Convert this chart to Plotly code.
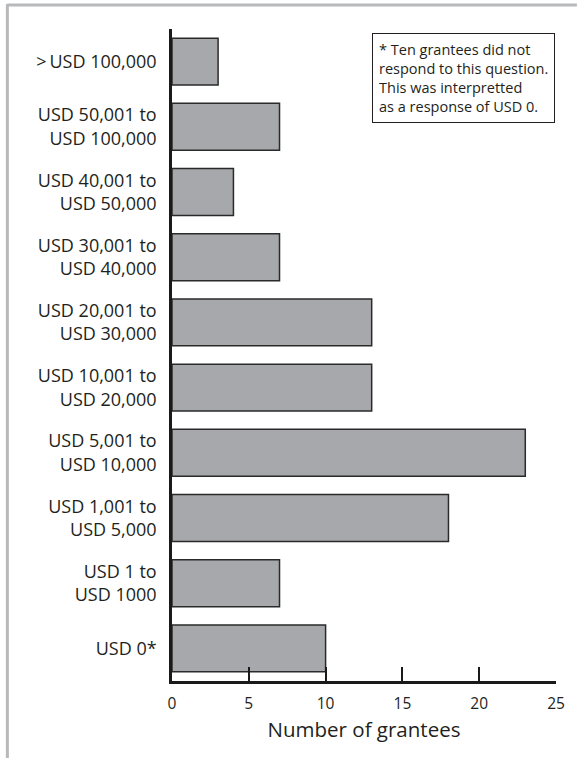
import plotly.graph_objects as go

categories = [
    "USD 0*",
    "USD 1 to<br>USD 1000",
    "USD 1,001 to<br>USD 5,000",
    "USD 5,001 to<br>USD 10,000",
    "USD 10,001 to<br>USD 20,000",
    "USD 20,001 to<br>USD 30,000",
    "USD 30,001 to<br>USD 40,000",
    "USD 40,001 to<br>USD 50,000",
    "USD 50,001 to<br>USD 100,000",
    ">\u2009USD 100,000",
]
counts = [10, 7, 18, 23, 13, 13, 7, 4, 7, 3]
x_ticks = [0, 5, 10, 15, 20, 25]
note = ("* Ten grantees did not<br>respond to this question.<br>"
        "This was interpretted<br>as a response of USD 0.")

FONT = "'Open Sans', Lato, sans-serif"

fig = go.Figure(go.Bar(
    x=counts, y=categories, orientation="h",
    marker=dict(color="#a7a8ab", line=dict(color="#2a2a2a", width=1.5)),
    width=0.72,
))

W, H = 577, 758
L, R, T, B = 172, 19, 29, 77
pw, ph = W - L - R, H - T - B

def px_x(p):
    return (p - L) / pw

def px_y(p):
    return (H - B - p) / ph

fig.update_layout(
    width=W, height=H,
    margin=dict(l=L, r=R, t=T, b=B),
    paper_bgcolor="white", plot_bgcolor="white",
    showlegend=False,
    font=dict(family=FONT, color="#231f20"),
    xaxis=dict(
        range=[0, 25], tickvals=x_ticks, ticks="inside", ticklen=14,
        tickwidth=2, tickcolor="#1a1a1a", showline=True, linecolor="#1a1a1a",
        linewidth=2.5, showgrid=False, zeroline=False, ticklabelstandoff=7,
        tickfont=dict(size=15.5, family=FONT), fixedrange=True,
        title=dict(text="Number of grantees", font=dict(size=20.5, family=FONT), standoff=10),
    ),
    yaxis=dict(
        range=[-0.5, 9.5], showline=True, linecolor="#1a1a1a", linewidth=2.5,
        ticks="", showgrid=False, zeroline=False, ticklabelstandoff=9,
        tickfont=dict(size=18, family=FONT), fixedrange=True,
    ),
    shapes=[
        dict(type="line", xref="paper", yref="paper",
             x0=px_x(6.5), x1=px_x(W + 2), y0=px_y(5), y1=px_y(5),
             line=dict(color="#b8b9bb", width=3)),
        dict(type="line", xref="paper", yref="paper",
             x0=px_x(6.5), x1=px_x(6.5), y0=px_y(4), y1=px_y(H + 2),
             line=dict(color="#b8b9bb", width=3)),
    ],
    annotations=[dict(
        text=note, xref="paper", yref="paper",
        x=px_x(373), y=px_y(33), xanchor="left", yanchor="top",
        align="left", showarrow=False,
        font=dict(size=14.5, family=FONT, color="#231f20"),
        bordercolor="#231f20", borderwidth=1, borderpad=6, bgcolor="white",
    )],
)

fig.write_html(
    "out.html",
    config={"displayModeBar": False},
    post_script="document.body.style.margin='0';document.body.style.overflow='hidden';",
)
